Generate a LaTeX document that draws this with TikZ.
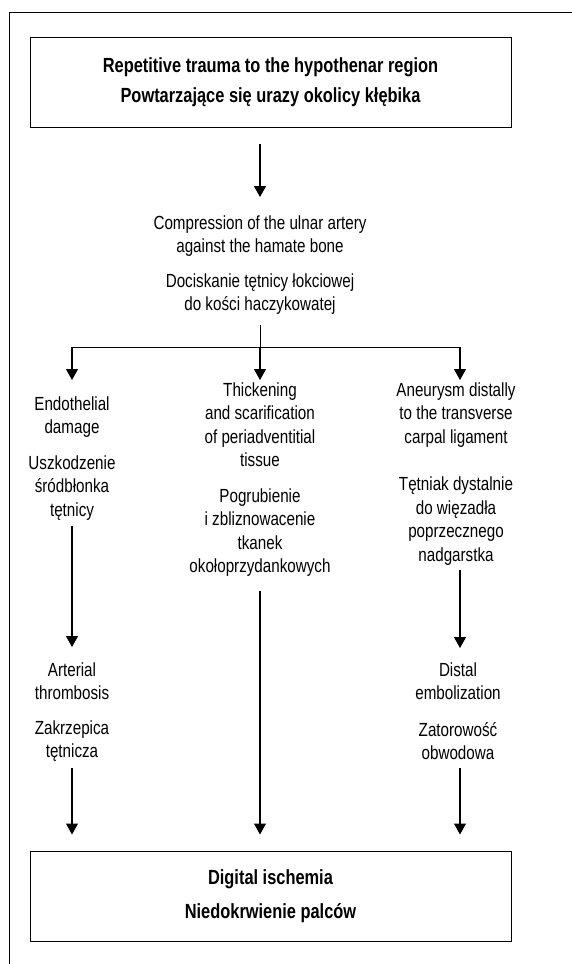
\documentclass[tikz,border=0pt]{standalone}
\usepackage{fontspec}
\setmainfont{Liberation Sans}[FakeStretch=0.8]
\usetikzlibrary{arrows.meta, positioning}

\begin{document}
\begin{tikzpicture}[x=1pt, y=-1pt, line width=1pt,
    box/.style={draw, minimum width=481pt, minimum height=90pt, align=center,
      font=\bfseries\fontsize{20.5}{30}\selectfont},
    txt/.style={anchor=north, align=center, inner sep=2pt,
      font=\fontsize{19}{23.5}\selectfont},
    arr/.style={-{Triangle[width=12pt, length=11pt]}, line width=1.2pt}]
      \useasboundingbox (0,0) rectangle (572,964);
      \draw (9.5,964) -- (9.5,12) -- (572,12);
      % boxes
      \node[box] (trauma) at (270.5,82) {Repetitive trauma to the hypothenar region\\Powtarzające się urazy okolicy kłębika};
      \node[box] (ischemia) at (270.5,896) {Digital ischemia\\[4pt]Niedokrwienie palców};
      % texts
      \node[txt] (comp) at (260,213) {Compression of the ulnar artery\\against the hamate bone\\[11pt]Dociskanie tętnicy łokciowej\\do kości haczykowatej};
      \node[txt] (endo) at (72,394) {Endothelial\\damage\\[12pt]Uszkodzenie\\śródbłonka\\tętnicy};
      \node[txt] (thick) at (260,380) {Thickening\\and scarification\\of periadventitial\\tissue\\[12pt]Pogrubienie\\i zbliznowacenie\\tkanek\\okołoprzydankowych};
      \node[txt] (aneu) at (456,380) {Aneurysm distally\\to the transverse\\carpal ligament\\[24pt]Tętniak dystalnie\\do więzadła\\poprzecznego\\nadgarstka};
      \node[txt] (arter) at (72,660) {Arterial\\thrombosis\\[11pt]Zakrzepica\\tętnicza};
      \node[txt] (distal) at (458,660) {Distal\\embolization\\[13pt]Zatorowość\\obwodowa};
      \coordinate (j) at (260,347);
      \coordinate (jl) at (72,347);
      \coordinate (jr) at (460,347);
      % connectors
      \draw[arr, shorten <=16pt, shorten >=16pt] (comp.north |- trauma.south) -- (comp.north);
      \draw[shorten <=8pt] (comp.south) -- (j);
      \draw (jl) -- (jr);
      \draw[arr, shorten >=14pt] (jl) -- (endo.north -| jl);
      \draw[arr] (j) -- (thick.north);
      \draw[arr] (jr) -- (aneu.north -| jr);
      \draw[arr, shorten <=3pt, shorten >=13pt] (endo.south) -- (arter.north);
      \draw[arr, shorten <=2pt, shorten >=12pt] (aneu.south -| jr) -- (distal.north -| jr);
      \draw[arr, shorten <=4pt, shorten >=16pt] (arter.south) -- (ischemia.north -| arter.south);
      \draw[arr, shorten <=12pt, shorten >=16pt] (thick.south) -- (ischemia.north -| thick.south);
      \draw[arr, shorten <=6pt, shorten >=16pt] (distal.south -| jr) -- (ischemia.north -| jr);
    \end{tikzpicture}
\end{document}
